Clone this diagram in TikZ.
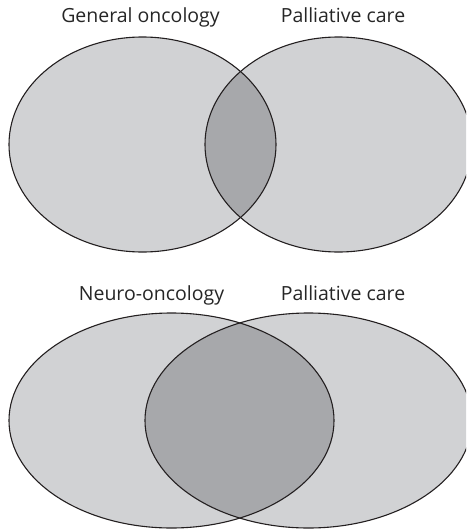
\documentclass[tikz,border=0pt]{standalone}
\usepackage{fontspec}
\setmainfont{Open Sans}
\definecolor{lightfill}{HTML}{D1D2D4}
\definecolor{darkfill}{HTML}{A7A8AB}
\definecolor{outline}{HTML}{231F20}
\begin{document}
\begin{tikzpicture}[x=1pt,y=-1pt,
  lbl/.style={anchor=base,inner sep=0pt,font=\fontsize{19.5}{22}\selectfont,text=black!85},
  ring/.style={draw=outline,line width=1.1pt}]
\useasboundingbox (0,0) rectangle (466,530);
\begin{scope}
\clip (0,0) rectangle (466,530);
% top venn
\fill[lightfill] (142.5,144.5) ellipse [x radius=133.5,y radius=107.5];
\fill[lightfill] (338.5,144.5) ellipse [x radius=133.5,y radius=107.5];
\begin{scope}
\clip (142.5,144.5) ellipse [x radius=133.5,y radius=107.5];
\fill[darkfill] (338.5,144.5) ellipse [x radius=133.5,y radius=107.5];
\end{scope}
\draw[ring] (142.5,144.5) ellipse [x radius=133.5,y radius=107.5];
\draw[ring] (338.5,144.5) ellipse [x radius=133.5,y radius=107.5];
% bottom venn
\fill[lightfill] (171.5,420.5) ellipse [x radius=162.5,y radius=107.5];
\fill[lightfill] (308.5,420.5) ellipse [x radius=163.5,y radius=107.5];
\begin{scope}
\clip (171.5,420.5) ellipse [x radius=162.5,y radius=107.5];
\fill[darkfill] (308.5,420.5) ellipse [x radius=163.5,y radius=107.5];
\end{scope}
\draw[ring] (171.5,420.5) ellipse [x radius=162.5,y radius=107.5];
\draw[ring] (308.5,420.5) ellipse [x radius=163.5,y radius=107.5];
\end{scope}
\node[lbl] (gen) at (140.5,23) {General oncology};
\node[lbl] (pal1) at (343,23) {Palliative care};
\node[lbl] (neuro) at (151.5,300) {Neuro-oncology};
\node[lbl] (pal2) at (343,300) {Palliative care};
\end{tikzpicture}
\end{document}
